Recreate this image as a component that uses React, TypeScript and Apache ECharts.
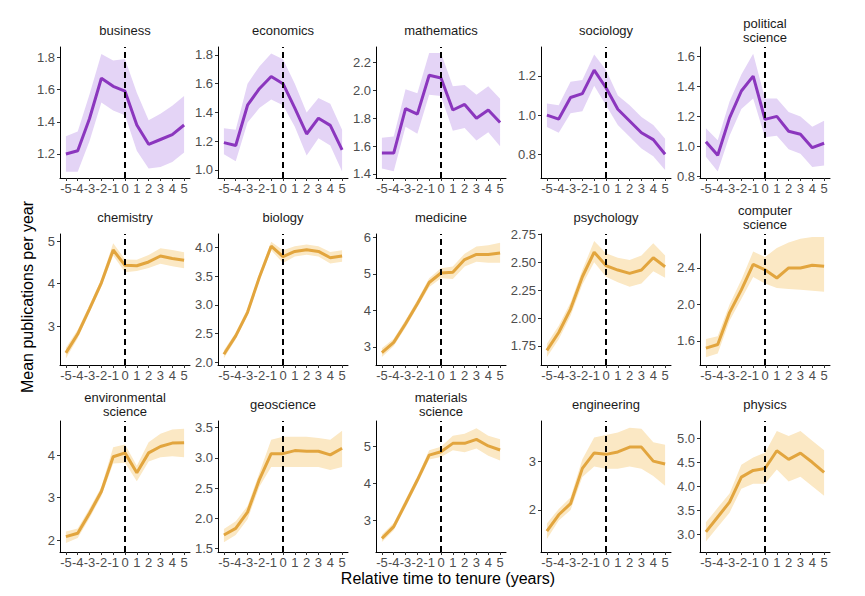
import React, { useEffect, useRef } from "react";
import * as echarts from "echarts";

// x positions (relative time to tenure)
const years = [-5, -4, -3, -2, -1, 0, 1, 2, 3, 4, 5];

// ---- purple (social sciences) ----
const businessMean = [1.20, 1.22, 1.42, 1.67, 1.62, 1.59, 1.38, 1.26, 1.29, 1.32, 1.38];
const businessLow = [1.09, 1.09, 1.28, 1.52, 1.47, 1.44, 1.22, 1.11, 1.12, 1.15, 1.21];
const businessHigh = [1.31, 1.34, 1.57, 1.82, 1.78, 1.79, 1.58, 1.41, 1.45, 1.50, 1.56];
const businessTicks = [1.2, 1.4, 1.6, 1.8];

const economicsMean = [1.19, 1.17, 1.45, 1.565, 1.65, 1.60, 1.43, 1.25, 1.36, 1.31, 1.14];
const economicsLow = [1.11, 1.06, 1.33, 1.43, 1.49, 1.45, 1.30, 1.10, 1.22, 1.17, 0.99];
const economicsHigh = [1.29, 1.28, 1.60, 1.72, 1.81, 1.77, 1.60, 1.40, 1.50, 1.46, 1.28];
const economicsTicks = [1.0, 1.2, 1.4, 1.6, 1.8];

const mathematicsMean = [1.55, 1.55, 1.87, 1.83, 2.11, 2.09, 1.86, 1.90, 1.80, 1.86, 1.77];
const mathematicsLow = [1.44, 1.42, 1.74, 1.69, 1.97, 1.96, 1.71, 1.73, 1.64, 1.70, 1.60];
const mathematicsHigh = [1.66, 1.67, 2.01, 1.98, 2.27, 2.27, 2.03, 2.04, 1.97, 2.03, 1.94];
const mathematicsTicks = [1.4, 1.6, 1.8, 2.0, 2.2];

const sociologyMean = [1.00, 0.98, 1.09, 1.11, 1.23, 1.14, 1.03, 0.97, 0.91, 0.875, 0.80];
const sociologyLow = [0.94, 0.91, 1.01, 1.02, 1.15, 1.05, 0.95, 0.89, 0.83, 0.79, 0.72];
const sociologyHigh = [1.06, 1.05, 1.17, 1.18, 1.31, 1.23, 1.10, 1.05, 0.99, 0.95, 0.88];
const sociologyTicks = [0.8, 1.0, 1.2];

const politicalMean = [1.03, 0.94, 1.19, 1.37, 1.47, 1.18, 1.20, 1.10, 1.08, 0.99, 1.02];
const politicalLow = [0.93, 0.83, 1.07, 1.25, 1.32, 1.06, 1.07, 0.98, 0.95, 0.86, 0.87];
const politicalHigh = [1.12, 1.04, 1.30, 1.48, 1.62, 1.32, 1.32, 1.23, 1.20, 1.13, 1.17];
const politicalTicks = [0.8, 1.0, 1.2, 1.4, 1.6];

// ---- orange (natural sciences / engineering) ----
const chemistryMean = [2.38, 2.82, 3.41, 4.02, 4.79, 4.43, 4.42, 4.51, 4.65, 4.59, 4.55];
const chemistryLow = [2.25, 2.72, 3.33, 3.93, 4.66, 4.27, 4.30, 4.37, 4.47, 4.41, 4.36];
const chemistryHigh = [2.50, 2.92, 3.50, 4.11, 4.95, 4.57, 4.56, 4.67, 4.83, 4.79, 4.74];
const chemistryTicks = [3, 4, 5];

const biologyMean = [2.14, 2.46, 2.87, 3.48, 4.02, 3.84, 3.93, 3.96, 3.93, 3.82, 3.85];
const biologyLow = [2.07, 2.40, 2.81, 3.42, 3.95, 3.73, 3.84, 3.87, 3.84, 3.72, 3.75];
const biologyHigh = [2.21, 2.52, 2.93, 3.54, 4.10, 3.95, 4.02, 4.05, 4.02, 3.92, 3.95];
const biologyTicks = [2.0, 2.5, 3.0, 3.5, 4.0];

const medicineMean = [2.84, 3.12, 3.63, 4.18, 4.76, 5.02, 5.04, 5.39, 5.53, 5.53, 5.57];
const medicineLow = [2.72, 3.02, 3.53, 4.08, 4.64, 4.88, 4.86, 5.20, 5.33, 5.30, 5.30];
const medicineHigh = [2.96, 3.22, 3.73, 4.28, 4.88, 5.15, 5.20, 5.55, 5.75, 5.78, 5.85];
const medicineTicks = [3, 4, 5, 6];

const psychologyMean = [1.71, 1.87, 2.08, 2.37, 2.59, 2.47, 2.43, 2.40, 2.43, 2.54, 2.46];
const psychologyLow = [1.65, 1.81, 2.02, 2.30, 2.50, 2.37, 2.32, 2.28, 2.31, 2.42, 2.36];
const psychologyHigh = [1.77, 1.93, 2.14, 2.43, 2.69, 2.58, 2.54, 2.52, 2.56, 2.67, 2.56];
const psychologyTicks = [1.75, 2.0, 2.25, 2.5, 2.75];

const computerMean = [1.52, 1.56, 1.91, 2.16, 2.44, 2.38, 2.29, 2.40, 2.40, 2.43, 2.42];
const computerLow = [1.42, 1.46, 1.82, 2.06, 2.30, 2.23, 2.18, 2.17, 2.16, 2.15, 2.14];
const computerHigh = [1.62, 1.65, 2.00, 2.27, 2.58, 2.52, 2.62, 2.68, 2.72, 2.74, 2.74];
const computerTicks = [1.6, 2.0, 2.4];

const environmentalMean = [2.08, 2.16, 2.63, 3.14, 3.96, 4.05, 3.58, 4.05, 4.20, 4.28, 4.29];
const environmentalLow = [1.93, 2.05, 2.52, 3.03, 3.80, 3.82, 3.38, 3.85, 3.95, 3.97, 3.95];
const environmentalHigh = [2.20, 2.27, 2.74, 3.25, 4.18, 4.25, 3.75, 4.30, 4.50, 4.60, 4.62];
const environmentalTicks = [2, 3, 4];

const geoscienceMean = [1.72, 1.83, 2.10, 2.64, 3.07, 3.07, 3.12, 3.11, 3.11, 3.05, 3.16];
const geoscienceLow = [1.60, 1.72, 1.98, 2.52, 2.85, 2.85, 2.85, 2.85, 2.85, 2.80, 2.85];
const geoscienceHigh = [1.82, 1.95, 2.20, 2.75, 3.30, 3.35, 3.35, 3.35, 3.33, 3.30, 3.45];
const geoscienceTicks = [1.5, 2.0, 2.5, 3.0, 3.5];

const materialsMean = [2.50, 2.82, 3.45, 4.09, 4.77, 4.86, 5.09, 5.09, 5.20, 5.02, 4.91];
const materialsLow = [2.40, 2.72, 3.35, 3.99, 4.65, 4.72, 4.90, 4.85, 4.95, 4.75, 4.62];
const materialsHigh = [2.60, 2.92, 3.55, 4.19, 4.90, 5.00, 5.30, 5.35, 5.50, 5.30, 5.20];
const materialsTicks = [3, 4, 5];

const engineeringMean = [1.56, 1.90, 2.13, 2.86, 3.18, 3.15, 3.20, 3.30, 3.30, 3.01, 2.95];
const engineeringLow = [1.40, 1.78, 2.00, 2.68, 2.90, 2.85, 2.85, 2.90, 2.85, 2.70, 2.50];
const engineeringHigh = [1.72, 2.02, 2.26, 3.05, 3.50, 3.55, 3.60, 3.70, 3.68, 3.40, 3.35];
const engineeringTicks = [2, 3];

const physicsMean = [3.05, 3.36, 3.67, 4.19, 4.33, 4.37, 4.74, 4.56, 4.69, 4.50, 4.29];
const physicsLow = [2.85, 3.15, 3.45, 3.95, 4.05, 4.05, 4.35, 4.10, 4.20, 4.00, 3.80];
const physicsHigh = [3.25, 3.55, 3.85, 4.45, 4.60, 4.70, 5.15, 5.05, 5.15, 4.95, 4.75];
const physicsTicks = [3.0, 3.5, 4.0, 4.5, 5.0];

const PURPLE = { line: "#8B36BE", band: "#E4D4F6" };
const ORANGE = { line: "#E2A53E", band: "#FBE8C4" };

type Panel = {
  title: string;
  mean: number[];
  low: number[];
  high: number[];
  ticks: number[];
  yMin: number;
  yMax: number;
  dec: number;
  pal: { line: string; band: string };
};

const panels: Panel[] = [
  { title: "business", mean: businessMean, low: businessLow, high: businessHigh, ticks: businessTicks, yMin: 1.051, yMax: 1.864, dec: 1, pal: PURPLE },
  { title: "economics", mean: economicsMean, low: economicsLow, high: economicsHigh, ticks: economicsTicks, yMin: 0.944, yMax: 1.855, dec: 1, pal: PURPLE },
  { title: "mathematics", mean: mathematicsMean, low: mathematicsLow, high: mathematicsHigh, ticks: mathematicsTicks, yMin: 1.371, yMax: 2.313, dec: 1, pal: PURPLE },
  { title: "sociology", mean: sociologyMean, low: sociologyLow, high: sociologyHigh, ticks: sociologyTicks, yMin: 0.679, yMax: 1.348, dec: 1, pal: PURPLE },
  { title: "political\nscience", mean: politicalMean, low: politicalLow, high: politicalHigh, ticks: politicalTicks, yMin: 0.787, yMax: 1.665, dec: 1, pal: PURPLE },
  { title: "chemistry", mean: chemistryMean, low: chemistryLow, high: chemistryHigh, ticks: chemistryTicks, yMin: 2.095, yMax: 5.165, dec: 0, pal: ORANGE },
  { title: "biology", mean: biologyMean, low: biologyLow, high: biologyHigh, ticks: biologyTicks, yMin: 1.953, yMax: 4.233, dec: 1, pal: ORANGE },
  { title: "medicine", mean: medicineMean, low: medicineLow, high: medicineHigh, ticks: medicineTicks, yMin: 2.5, yMax: 6.09, dec: 0, pal: ORANGE },
  { title: "psychology", mean: psychologyMean, low: psychologyLow, high: psychologyHigh, ticks: psychologyTicks, yMin: 1.579, yMax: 2.753, dec: 2, pal: ORANGE },
  { title: "computer\nscience", mean: computerMean, low: computerLow, high: computerHigh, ticks: computerTicks, yMin: 1.335, yMax: 2.773, dec: 1, pal: ORANGE },
  { title: "environmental\nscience", mean: environmentalMean, low: environmentalLow, high: environmentalHigh, ticks: environmentalTicks, yMin: 1.718, yMax: 4.8, dec: 0, pal: ORANGE },
  { title: "geoscience", mean: geoscienceMean, low: geoscienceLow, high: geoscienceHigh, ticks: geoscienceTicks, yMin: 1.439, yMax: 3.611, dec: 1, pal: ORANGE },
  { title: "materials\nscience", mean: materialsMean, low: materialsLow, high: materialsHigh, ticks: materialsTicks, yMin: 2.128, yMax: 5.7, dec: 0, pal: ORANGE },
  { title: "engineering", mean: engineeringMean, low: engineeringLow, high: engineeringHigh, ticks: engineeringTicks, yMin: 1.13, yMax: 3.84, dec: 0, pal: ORANGE },
  { title: "physics", mean: physicsMean, low: physicsLow, high: physicsHigh, ticks: physicsTicks, yMin: 2.63, yMax: 5.36, dec: 1, pal: ORANGE },
];

const COL_LEFT = [60, 218, 376, 541, 700];
const ROW_TOP = [47, 234, 421];
const PW = 130;
const PH = 131;
const FONT = "'Liberation Sans', Arial, Helvetica, sans-serif";

export default function App() {
  const ref = useRef<HTMLDivElement>(null);
  useEffect(() => {
    if (!ref.current) return;
    const chart = echarts.init(ref.current, undefined, { renderer: "svg" });
    const grids: any[] = [];
    const xAxes: any[] = [];
    const yAxes: any[] = [];
    const series: any[] = [];
    const graphics: any[] = [];

    panels.forEach((p, k) => {
      const col = k % 5;
      const row = Math.floor(k / 5);
      const left = COL_LEFT[col];
      const top = ROW_TOP[row];
      grids.push({ left, top, width: PW, height: PH, containLabel: false });
      xAxes.push({
        gridIndex: k,
        type: "value",
        min: -5.5,
        max: 5.5,
        axisLine: { show: true, onZero: false, lineStyle: { color: "#000", width: 1 } },
        axisTick: { show: true, length: 3, customValues: years, lineStyle: { color: "#333", width: 1 } },
        axisLabel: {
          customValues: years,
          fontSize: 13,
          color: "#4d4d4d",
          margin: 4,
          fontFamily: FONT,
          formatter: (v: number) => String(v),
        },
        splitLine: { show: false },
      });
      yAxes.push({
        gridIndex: k,
        type: "value",
        min: p.yMin,
        max: p.yMax,
        axisLine: { show: true, onZero: false, lineStyle: { color: "#000", width: 1 } },
        axisTick: { show: true, length: 3, customValues: p.ticks, lineStyle: { color: "#333", width: 1 } },
        axisLabel: {
          customValues: p.ticks,
          fontSize: 13,
          color: "#4d4d4d",
          margin: 5,
          fontFamily: FONT,
          formatter: (v: number) => v.toFixed(p.dec),
        },
        splitLine: { show: false },
      });
      const low = p.low;
      const high = p.high;
      series.push({
        type: "custom",
        xAxisIndex: k,
        yAxisIndex: k,
        silent: true,
        z: 1,
        data: years.map((x, i) => [x, low[i], high[i]]),
        encode: { x: 0, y: [1, 2] },
        renderItem: (params: any, api: any) => {
          if (params.dataIndex !== 0) return null;
          const upper = years.map((x, i) => api.coord([x, high[i]]));
          const lower = years.map((x, i) => api.coord([x, low[i]])).reverse();
          return {
            type: "polygon",
            shape: { points: upper.concat(lower) },
            style: { fill: p.pal.band, stroke: "none" },
          };
        },
      });
      series.push({
        type: "line",
        xAxisIndex: k,
        yAxisIndex: k,
        z: 3,
        silent: true,
        symbol: "none",
        data: years.map((x, i) => [x, p.mean[i]]),
        lineStyle: { color: p.pal.line, width: 3 },
        itemStyle: { color: p.pal.line },
        markLine: {
          silent: true,
          symbol: "none",
          label: { show: false },
          lineStyle: { color: "#000", type: [6, 4], width: 2 },
          data: [{ xAxis: 0 }],
        },
      });
      graphics.push({
        type: "text",
        x: left + PW / 2,
        y: top - 17,
        style: {
          text: p.title,
          x: 0,
          y: 0,
          textAlign: "center",
          textVerticalAlign: "middle",
          fontSize: 13,
          lineHeight: 14,
          fill: "#1a1a1a",
          fontFamily: FONT,
        },
      });
    });

    graphics.push({
      type: "text",
      x: 27,
      y: 297,
      rotation: Math.PI / 2,
      style: {
        text: "Mean publications per year",
        textAlign: "center",
        textVerticalAlign: "middle",
        fontSize: 16,
        fill: "#000",
        fontFamily: FONT,
      },
    });
    graphics.push({
      type: "text",
      x: 448,
      y: 578,
      style: {
        text: "Relative time to tenure (years)",
        textAlign: "center",
        textVerticalAlign: "middle",
        fontSize: 16,
        fill: "#000",
        fontFamily: FONT,
      },
    });

    chart.setOption({
      animation: false,
      backgroundColor: "#fff",
      grid: grids,
      xAxis: xAxes,
      yAxis: yAxes,
      series,
      graphic: graphics,
    });
    return () => chart.dispose();
  }, []);
  return (
    <div
      ref={ref}
      style={{ position: "absolute", left: 0, top: 0, width: 865, height: 596 }}
    />
  );
}
